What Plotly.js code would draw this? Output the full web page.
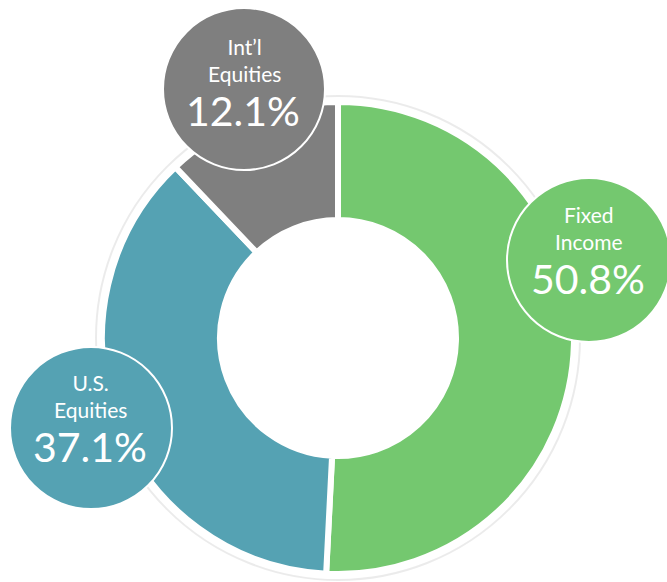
<!DOCTYPE html>
<html>
<head>
<meta charset="utf-8">
<script src="https://cdn.plot.ly/plotly-3.0.1.min.js"></script>
<style>html,body{margin:0;padding:0;background:#fff;}#chart{width:667px;height:582px;}</style>
</head>
<body>
<div id="chart"></div>
<script>
// Data
const categories = ['Fixed Income', 'U.S. Equities', 'Int’l Equities'];
const labelLines = ['Fixed<br>Income', 'U.S.<br>Equities', 'Int’l<br>Equities'];
const values = [50.8, 37.1, 12.1];
const colors = ['#74c86f', '#55a2b3', '#7f7f7f'];

// Layout geometry (pixels)
const W = 667, H = 582;
const CX = 338, CY = 338, R = 236;
const bubbles = [
  {cx: 589, cy: 260, r: 82, dy: 0},
  {cx: 91, cy: 428, r: 81, dy: 0},
  {cx: 244, cy: 89, r: 81, dy: 3}
];
const px = x => x / W;
const py = y => 1 - y / H;
const FONT = 'Lato, Open Sans, sans-serif';

const shapes = [];
const annotations = [];
// outer white ring with soft shadow
shapes.push({type: 'circle', xref: 'paper', yref: 'paper', layer: 'below',
  x0: px(CX - R - 6), x1: px(CX + R + 6), y0: py(CY + R + 6), y1: py(CY - R - 6),
  fillcolor: '#ffffff', line: {color: 'rgba(0,0,0,0.08)', width: 2}});

bubbles.forEach((b, i) => {
  shapes.push({type: 'circle', xref: 'paper', yref: 'paper', layer: 'above',
    x0: px(b.cx - b.r), x1: px(b.cx + b.r), y0: py(b.cy + b.r), y1: py(b.cy - b.r),
    fillcolor: colors[i], line: {color: '#ffffff', width: 2}});
  annotations.push({xref: 'paper', yref: 'paper', x: px(b.cx), y: py(b.cy - 32 + b.dy),
    text: labelLines[i], showarrow: false, xanchor: 'center', yanchor: 'middle',
    font: {family: FONT, size: 21, color: '#ffffff'}});
  annotations.push({xref: 'paper', yref: 'paper', x: px(b.cx - 1), y: py(b.cy + 18 + b.dy),
    text: values[i].toFixed(1) + '%', showarrow: false, xanchor: 'center', yanchor: 'middle',
    font: {family: FONT, size: 41, color: '#ffffff'}});
});

const trace = {
  type: 'pie',
  labels: categories,
  values: values,
  marker: {colors: colors, line: {color: '#ffffff', width: 6}},
  hole: 0.5,
  sort: false,
  direction: 'clockwise',
  rotation: 0,
  textinfo: 'none',
  hoverinfo: 'none',
  showlegend: false,
  domain: {x: [px(CX - R), px(CX + R)], y: [py(CY + R), py(CY - R)]}
};

Plotly.newPlot('chart', [trace], {
  width: W, height: H,
  margin: {l: 0, r: 0, t: 0, b: 0},
  paper_bgcolor: '#ffffff',
  showlegend: false,
  shapes: shapes,
  annotations: annotations
}, {displayModeBar: false, staticPlot: true});
</script>
</body>
</html>
